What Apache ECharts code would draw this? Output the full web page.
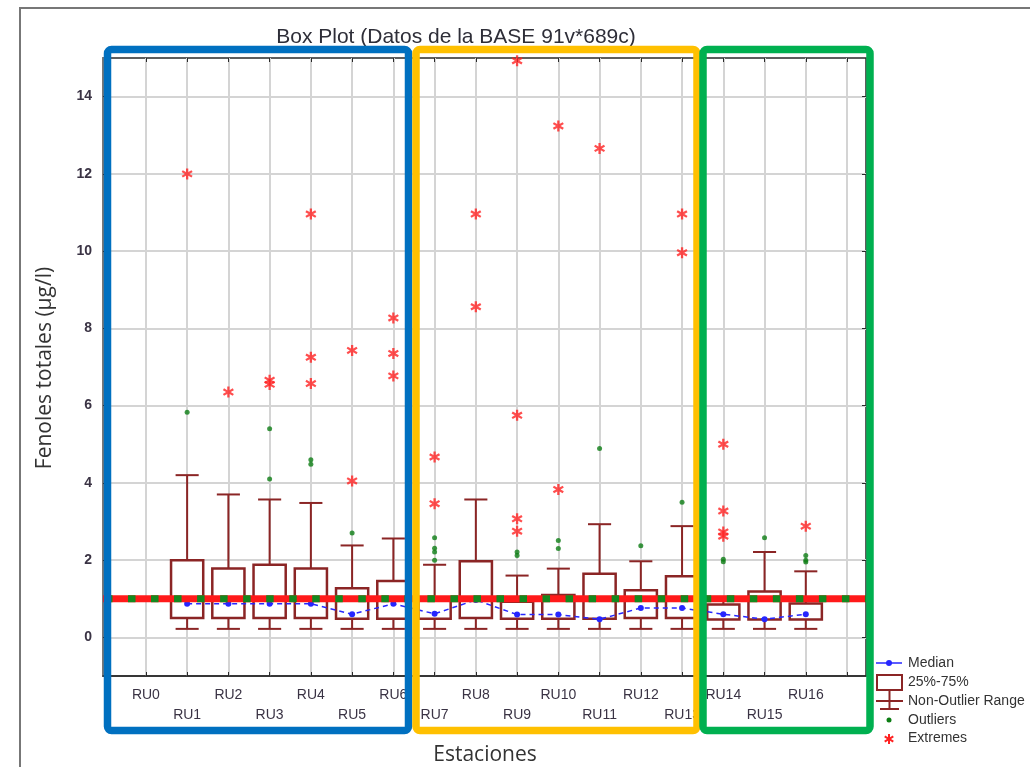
<!DOCTYPE html>
<html>
<head>
<meta charset="utf-8">
<script src="https://cdn.jsdelivr.net/npm/echarts@6/dist/echarts.min.js"></script>
<style>
  html, body { margin: 0; padding: 0; background: #fff; }
  #chart { width: 1030px; height: 767px; }
</style>
</head>
<body>
<div id="chart"></div>
<script>
// Stations along the x axis (RU0 has no measurements)
const stations = ['RU0','RU1','RU2','RU3','RU4','RU5','RU6','RU7','RU8','RU9','RU10','RU11','RU12','RU13','RU14','RU15','RU16'];

// Box statistics per station (µg/l): non-outlier min, 25%, median, 75%, non-outlier max
const whiskerLow  = [null,0.22,0.22,0.22,0.22,0.22,0.22,0.22,0.22,0.22,0.22,0.22,0.22,0.22,0.22,0.22,0.22];
const q1          = [null,0.50,0.50,0.50,0.50,0.48,0.48,0.48,0.50,0.48,0.48,0.48,0.50,0.50,0.46,0.46,0.46];
const medians     = [null,0.87,0.87,0.87,0.87,0.60,0.87,0.61,0.97,0.59,0.59,0.47,0.76,0.76,0.60,0.47,0.60];
const q3          = [null,2.00,1.78,1.88,1.78,1.27,1.46,1.00,1.97,0.92,1.10,1.65,1.22,1.58,0.85,1.19,0.88];
const whiskerHigh = [null,4.20,3.70,3.57,3.48,2.38,2.56,1.88,3.57,1.60,1.78,2.93,1.97,2.88,1.05,2.21,1.71];

// Outliers and extremes: [station index, value]
const outliers = [
  [1,5.83],[3,5.40],[3,4.10],[4,4.60],[4,4.48],[5,2.70],
  [7,2.58],[7,2.31],[7,2.21],[7,2.00],[9,2.21],[9,2.12],
  [10,2.51],[10,2.30],[11,4.89],[12,2.37],[13,3.50],
  [14,1.96],[14,2.02],[15,2.58],[16,2.12],[16,2.00],[16,1.95]
];
const extremes = [
  [1,12.0],[2,6.35],[3,6.66],[3,6.55],[4,10.96],[4,7.25],[4,6.57],
  [5,7.43],[5,4.05],[6,8.27],[6,7.35],[6,6.77],[7,4.67],[7,3.46],
  [8,10.96],[8,8.56],[9,14.93],[9,5.75],[9,3.07],[9,2.75],
  [10,13.24],[10,3.83],[11,12.66],[13,10.96],[13,9.96],
  [14,5.0],[14,3.27],[14,2.73],[14,2.62],[16,2.88]
];

// Reference level (µg/l)
const referenceLevel = 1;

// Axis ticks
const yTicks = [0,2,4,6,8,10,12,14];
const xTicks = [0,1,2,3,4,5,6,7,8,9,10,11,12,13,14,15,16,17];

const X_MIN = -1.04, X_MAX = 17.46, Y_MIN = -1, Y_MAX = 15;
const BOX_COLOR = '#8b2525';
const BOX_W = 0.78, CAP_W = 0.56;

const boxData = [];
const medianData = [];
stations.forEach((s, i) => {
  if (q1[i] == null) return;
  boxData.push([i, whiskerLow[i], q1[i], q3[i], whiskerHigh[i]]);
  medianData.push([i, medians[i]]);
});

// six-armed asterisk used for extreme values
const asteriskPts = [[4,0],[6,0],[6,3.2],[8.8,1.6],[9.8,3.3],[7,5],[9.8,6.7],[8.8,8.4],[6,6.8],[6,10],[4,10],[4,6.8],[1.2,8.4],[0.2,6.7],[3,5],[0.2,3.3],[1.2,1.6],[4,3.2]];
const asterisk = 'path://M' + asteriskPts.map(p => p.join(',')).join('L') + 'Z';

const chart = echarts.init(document.getElementById('chart'), null, { renderer: 'canvas' });

const legendText = (text, y) => ({
  type: 'text', x: 908, y: y,
  style: { text: text, fontFamily: 'Liberation Sans', fontSize: 14, fill: '#333', verticalAlign: 'middle' }
});

const option = {
  animation: false,
  backgroundColor: '#fff',
  title: {
    text: 'Box Plot (Datos de la BASE 91v*689c)',
    left: 451, top: 22, textAlign: 'center',
    textStyle: { fontFamily: 'Liberation Sans', fontSize: 21, fontWeight: 'normal', color: '#2e2e38' }
  },
  grid: {
    left: 103, top: 58, right: 164, bottom: 91,
    show: true, borderColor: '#2a2a2a', borderWidth: 1.5, backgroundColor: 'transparent'
  },
  xAxis: [{
    type: 'value', min: X_MIN, max: X_MAX,
    axisLine: { show: true, onZero: false, lineStyle: { color: '#2a2a2a', width: 1.5 } },
    axisTick: { show: true, inside: true, length: 4, customValues: xTicks, lineStyle: { color: '#2a2a2a' } },
    splitLine: { show: true, lineStyle: { color: '#d4d4d4', width: 2 } },
    axisLabel: {
      customValues: xTicks,
      margin: 9, lineHeight: 20,
      fontFamily: 'Liberation Sans', fontSize: 14, color: '#3a3344',
      formatter: v => {
        const i = Math.round(v);
        if (i < 0 || i >= stations.length) return '';
        return i % 2 === 0 ? stations[i] : '\n' + stations[i];
      }
    }
  }, {
    type: 'value', position: 'top', min: X_MIN, max: X_MAX,
    axisLine: { show: false, onZero: false },
    axisTick: { show: true, inside: true, length: 4, customValues: xTicks, lineStyle: { color: '#2a2a2a' } },
    axisLabel: { show: false }, splitLine: { show: false }
  }],
  yAxis: [{
    type: 'value', min: Y_MIN, max: Y_MAX,
    axisLine: { show: true, onZero: false, lineStyle: { color: '#777', width: 2 } },
    axisTick: { show: true, inside: true, length: 4, customValues: yTicks, lineStyle: { color: '#2a2a2a' } },
    splitLine: { show: true, lineStyle: { color: '#d4d4d4', width: 2 } },
    axisLabel: {
      customValues: yTicks, margin: 11,
      fontFamily: 'Liberation Sans', fontSize: 14, fontWeight: 'bold', color: '#3a3344'
    }
  }, {
    type: 'value', position: 'right', min: Y_MIN, max: Y_MAX,
    axisLine: { show: false, onZero: false },
    axisTick: { show: true, inside: true, length: 4, customValues: yTicks, lineStyle: { color: '#2a2a2a' } },
    axisLabel: { show: false }, splitLine: { show: false }
  }],
  series: [
    {
      // box and whiskers per station
      type: 'custom', name: 'box', z: 2,
      xAxisIndex: 0, yAxisIndex: 0,
      data: boxData,
      renderItem: (params, api) => {
        const x = api.value(0);
        const pLo = api.coord([x, api.value(1)]);
        const pQ1 = api.coord([x, api.value(2)]);
        const pQ3 = api.coord([x, api.value(3)]);
        const pHi = api.coord([x, api.value(4)]);
        const hb = api.size([BOX_W, 0])[0] / 2;
        const hc = api.size([CAP_W, 0])[0] / 2;
        const ws = { stroke: BOX_COLOR, lineWidth: 2 };
        return {
          type: 'group',
          children: [
            { type: 'line', shape: { x1: pQ3[0], y1: pQ3[1], x2: pHi[0], y2: pHi[1] }, style: ws },
            { type: 'line', shape: { x1: pHi[0] - hc, y1: pHi[1], x2: pHi[0] + hc, y2: pHi[1] }, style: ws },
            { type: 'line', shape: { x1: pQ1[0], y1: pQ1[1], x2: pLo[0], y2: pLo[1] }, style: ws },
            { type: 'line', shape: { x1: pLo[0] - hc, y1: pLo[1], x2: pLo[0] + hc, y2: pLo[1] }, style: ws },
            { type: 'rect', shape: { x: pQ1[0] - hb, y: pQ3[1], width: hb * 2, height: pQ1[1] - pQ3[1] },
              style: { fill: '#fff', stroke: BOX_COLOR, lineWidth: 2.5 } }
          ]
        };
      }
    },
    {
      // medians joined by a dashed line
      type: 'line', name: 'Median', z: 3,
      data: medianData,
      lineStyle: { color: '#2626ff', width: 1.5, type: [5, 4] },
      symbol: 'circle', symbolSize: 6,
      itemStyle: { color: '#2626ff' }
    },
    {
      type: 'scatter', name: 'Outliers', z: 4,
      data: outliers, symbol: 'circle', symbolSize: 5,
      itemStyle: { color: '#0c7d14' }
    },
    {
      type: 'scatter', name: 'Extremes', z: 4,
      data: extremes, symbol: asterisk, symbolSize: 11,
      itemStyle: { color: '#ff2222' }
    },
    {
      // reference level: thick red band
      type: 'line', z: 5, silent: true,
      data: [[X_MIN, referenceLevel], [X_MAX, referenceLevel]],
      symbol: 'none',
      lineStyle: { color: '#ff1a1a', width: 7, cap: 'butt' }
    },
    {
      // green dashes over the red band
      type: 'line', z: 6, silent: true,
      data: [[X_MIN, referenceLevel], [X_MAX, referenceLevel]],
      symbol: 'none',
      lineStyle: { color: '#14891e', width: 7, type: [7.5, 15.53], dashOffset: 21.06, cap: 'butt' }
    }
  ],
  graphic: [
    // outer frame
    { type: 'rect', z: 0, silent: true, shape: { x: 20, y: 8, width: 1100, height: 820 },
      style: { fill: 'none', stroke: '#777', lineWidth: 2 } },
    // axis titles
    { type: 'text', x: 45, y: 368, rotation: Math.PI / 2, silent: true,
      style: { text: 'Fenoles totales (µg/l)', fontFamily: 'Open Sans', fontSize: 21, fill: '#333',
               align: 'center', verticalAlign: 'middle' } },
    { type: 'text', x: 485, y: 755, silent: true,
      style: { text: 'Estaciones', fontFamily: 'Open Sans', fontSize: 21, fill: '#333',
               align: 'center', verticalAlign: 'middle' } },
    // station groups
    { type: 'rect', z: 100, silent: true, shape: { x: 107.5, y: 49.5, width: 301, height: 681, r: 4 },
      style: { fill: 'none', stroke: '#0070c0', lineWidth: 7.5 } },
    { type: 'rect', z: 100, silent: true, shape: { x: 416, y: 49.5, width: 281, height: 681, r: 4 },
      style: { fill: 'none', stroke: '#ffc000', lineWidth: 7.5 } },
    { type: 'rect', z: 101, silent: true, shape: { x: 703, y: 49.5, width: 167, height: 681, r: 4 },
      style: { fill: 'none', stroke: '#00b050', lineWidth: 7.5 } },
    // legend
    { type: 'group', z: 50, silent: true, children: [
      { type: 'line', shape: { x1: 876, y1: 663, x2: 902, y2: 663 }, style: { stroke: '#2626ff', lineWidth: 1.5 } },
      { type: 'circle', shape: { cx: 889, cy: 663, r: 3 }, style: { fill: '#2626ff' } },
      { type: 'rect', shape: { x: 877, y: 675, width: 25, height: 15 }, style: { fill: '#fff', stroke: BOX_COLOR, lineWidth: 2 } },
      { type: 'line', shape: { x1: 889.5, y1: 690, x2: 889.5, y2: 709 }, style: { stroke: BOX_COLOR, lineWidth: 2 } },
      { type: 'line', shape: { x1: 876, y1: 701, x2: 903, y2: 701 }, style: { stroke: BOX_COLOR, lineWidth: 2 } },
      { type: 'line', shape: { x1: 880, y1: 709, x2: 899, y2: 709 }, style: { stroke: BOX_COLOR, lineWidth: 2 } },
      { type: 'circle', shape: { cx: 889, cy: 720, r: 2.5 }, style: { fill: '#0c7d14' } },
      { type: 'polygon', x: 884, y: 734, shape: { points: asteriskPts }, style: { fill: '#ff2222' } },
      legendText('Median', 663),
      legendText('25%-75%', 682),
      legendText('Non-Outlier Range', 701),
      legendText('Outliers', 720),
      legendText('Extremes', 738)
    ]}
  ]
};

chart.setOption(option);
</script>
</body>
</html>
